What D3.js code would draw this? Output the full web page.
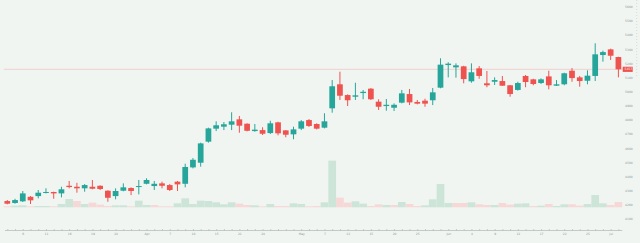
<!DOCTYPE html>
<html><head><meta charset="utf-8">
<script src="https://cdn.jsdelivr.net/npm/d3@7"></script>
<style>html,body{margin:0;padding:0;background:#f1f5f2;overflow:hidden}svg{display:block}</style>
</head><body>
<script>
// ---- data ----
const opens  = [4225,4211,4223,4255,4260,4284,4289,4279,4333,4326,4315,4326,4333,4298,4260,4298,4317,4324,4347,4331,4350,4338,4362,4347,4463,4496,4645,4737,4751,4765,4803,4772,4720,4727,4706,4782,4725,4697,4737,4798,4770,4744,4881,5051,4975,4963,4989,5020,4928,4897,4885,4921,4982,4926,4935,4938,5027,5187,5171,5178,5072,5164,5058,5069,5074,5044,5011,5110,5086,5060,5107,5041,5051,5147,5100,5076,5110,5258,5298,5244];
const highs  = [4232,4241,4296,4260,4303,4315,4291,4326,4367,4354,4345,4374,4336,4301,4315,4350,4322,4374,4386,4367,4362,4345,4367,4489,4529,4638,4744,4789,4784,4853,4827,4775,4770,4747,4793,4786,4727,4751,4798,4805,4775,4846,5081,5140,4980,5062,5011,5025,4945,4947,4916,5011,5018,4940,4949,5025,5235,5207,5199,5182,5199,5180,5145,5100,5110,5046,5069,5117,5090,5093,5147,5081,5133,5166,5110,5150,5341,5289,5303,5246];
const lows   = [4202,4206,4218,4204,4244,4279,4241,4251,4315,4284,4291,4308,4303,4220,4237,4294,4267,4272,4343,4303,4315,4296,4296,4322,4456,4468,4638,4720,4727,4727,4708,4718,4715,4692,4699,4690,4676,4662,4727,4749,4732,4739,4850,4940,4897,4940,4945,4940,4869,4864,4862,4916,4904,4909,4892,4904,5023,5100,5098,5058,5062,5090,5030,5046,5039,4963,5006,5030,5044,5053,5015,5039,5044,5069,5034,5051,5074,5211,5223,5100];
const closes = [4206,4232,4279,4230,4284,4289,4279,4308,4324,4315,4338,4312,4310,4248,4296,4322,4296,4331,4374,4347,4333,4303,4343,4466,4517,4633,4739,4761,4768,4789,4758,4722,4730,4701,4775,4704,4694,4732,4789,4756,4737,4789,5037,4970,4938,4973,4998,4945,4892,4906,4906,4987,4923,4914,4914,4994,5190,5197,5185,5088,5136,5110,5044,5081,5041,4982,5060,5067,5053,5086,5044,5051,5129,5095,5074,5112,5263,5279,5253,5157];
const volumes = [40,67,80,40,53,53,40,133,333,253,133,187,107,53,80,80,40,267,93,93,40,40,160,360,133,267,253,200,120,200,147,93,80,40,133,53,53,160,133,40,53,200,1867,387,187,240,147,53,120,93,93,213,133,53,80,320,933,173,173,173,200,120,93,93,173,107,147,160,53,67,133,53,120,120,67,133,493,160,93,213];
const volumeUp = [0,1,1,0,1,1,0,1,1,0,1,0,0,0,1,1,0,1,1,0,0,0,1,1,1,1,1,1,1,1,0,0,1,0,1,0,0,1,1,0,0,1,1,0,0,1,1,0,0,1,0,1,0,0,1,1,1,1,0,0,1,0,0,1,0,0,1,1,0,1,0,1,1,0,0,1,1,1,0,0];
const tickIdx  = [2,5,8,11,14,18,21,24,27,30,33,38,41,44,47,50,53,57,60,63,66,69,72,75,78];
const tickText = ["6","11","16","19","24","Apr","7","10","15","21","24","May","7","12","15","20","25","Jun","4","9","12","17","22","25","Jul"];
const priceTicks = [4100,4200,4300,4400,4500,4600,4700,4800,4900,5000,5100,5200,5300,5400,5500,5600];

// ---- layout ----
const W = 640, H = 243;
const UP = "#26a69a", DOWN = "#ef5350";
const n = closes.length;
const x = d3.scaleLinear().domain([0, n - 1]).range([7.3, 618.4]);
const step = x(1) - x(0);
const y = d3.scaleLinear().domain([4100, 5600]).range([218.7, 6.7]);
const yv = d3.scaleLinear().domain([0, 2000]).range([207.3, 157.3]);

const svg = d3.select("body").append("svg").attr("width", W).attr("height", H);
svg.append("rect").attr("width", W).attr("height", H).attr("fill", "#f1f5f2");

const idx = d3.range(n);

// volume
svg.append("g").selectAll("rect").data(idx).join("rect")
  .attr("x", i => x(i) - step / 2)
  .attr("width", step)
  .attr("y", i => yv(volumes[i]))
  .attr("height", i => yv(0) - yv(volumes[i]))
  .attr("fill", i => volumeUp[i] ? "#cde5d9" : "#f6d8d7");

// last price line
const last = closes[n - 1];
svg.append("line")
  .attr("x1", x(0) - step * 0.45).attr("x2", x(n - 1) + step * 0.5)
  .attr("y1", y(last)).attr("y2", y(last))
  .attr("stroke", "#f0cfcd").attr("stroke-width", 1);

// candles
const g = svg.append("g");
g.selectAll("line.wick").data(idx).join("line").attr("class", "wick")
  .attr("x1", i => x(i)).attr("x2", i => x(i))
  .attr("y1", i => y(highs[i])).attr("y2", i => y(lows[i]))
  .attr("stroke", i => closes[i] >= opens[i] ? UP : DOWN).attr("stroke-width", 1);
const bw = step * 0.74;
g.selectAll("rect.body").data(idx).join("rect").attr("class", "body")
  .attr("x", i => x(i) - bw / 2).attr("width", bw)
  .attr("y", i => y(Math.max(opens[i], closes[i])))
  .attr("height", i => Math.max(1, Math.abs(y(opens[i]) - y(closes[i]))))
  .attr("fill", i => closes[i] >= opens[i] ? UP : DOWN);

// time axis
const ax = svg.append("g").attr("transform", "translate(0,230.5)");
ax.append("line")
  .attr("x1", x(0) - step * 0.3).attr("x2", x(n - 1) + step * 0.5)
  .attr("stroke", "#c3cbc7").attr("stroke-width", 1);
ax.append("g").call(d3.axisBottom(x).tickValues(idx).tickSize(-1.2).tickFormat(""))
  .call(s => s.select(".domain").remove())
  .call(s => s.selectAll("line").attr("stroke", "#b4bcb8"));
ax.append("g").call(d3.axisBottom(x).tickValues(tickIdx).tickSize(0).tickPadding(2.6)
    .tickFormat((d, k) => tickText[k]))
  .call(s => s.select(".domain").remove())
  .call(s => s.selectAll("text").attr("fill", "#8c9692").attr("font-size", 3)
    .attr("font-family", "DejaVu Sans, sans-serif"));

// price axis
const pa = svg.append("g").attr("transform", "translate(632.7,0)");
pa.call(d3.axisLeft(y).tickValues(priceTicks).tickSize(0).tickPadding(0).tickFormat(d3.format("d")))
  .call(s => s.select(".domain").remove())
  .call(s => s.selectAll("text").attr("fill", "#8c9692").attr("font-size", 3)
    .attr("font-family", "DejaVu Sans, sans-serif"));

// last price label
svg.append("rect").attr("x", 622.7).attr("y", y(last) - 2.6).attr("width", 10).attr("height", 5.2)
  .attr("fill", DOWN);
svg.append("text").attr("x", 632.2).attr("y", y(last)).attr("dy", "0.35em")
  .attr("text-anchor", "end").attr("fill", "#fff").attr("font-size", 3)
  .attr("font-family", "DejaVu Sans, sans-serif").text(d3.format("d")(last));

// faint dotted scale edge
svg.append("line").attr("x1", 636.7).attr("x2", 636.7).attr("y1", 0).attr("y2", y(5100))
  .attr("stroke", "#d5dbd8").attr("stroke-dasharray", "1,2");
</script>
</body></html>
